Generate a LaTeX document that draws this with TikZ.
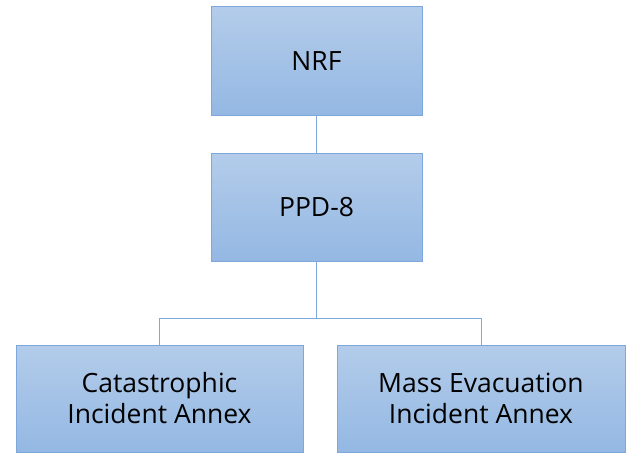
\documentclass[tikz,border=0pt]{standalone}
\usepackage{fontspec}
\setmainfont{Open Sans}
\usetikzlibrary{positioning}

\definecolor{boxtop}{HTML}{B3CCEA}
\definecolor{boxbot}{HTML}{94B8E3}
\definecolor{boxline}{HTML}{7EA7DC}

\begin{document}
\begin{tikzpicture}[x=1pt,y=-1pt,
        unit/.style={draw=boxline, line width=1pt, top color=boxtop, bottom color=boxbot,
          minimum height=108pt, align=center, font=\fontsize{26.5}{31}\selectfont, inner sep=0pt},
        link/.style={draw=boxline, line width=1pt}]
        \useasboundingbox (0,0) rectangle (628,452);
        \node[unit, minimum width=211pt] at (316.5,61) (nrf){NRF};
        \node[unit, minimum width=211pt] at (316.5,207.5) (ppd){PPD-8};
        \node[unit, minimum width=287pt, minimum height=107pt] at (159.5,398.5) (cat){Catastrophic\\Incident Annex};
        \node[unit, minimum width=288pt, minimum height=107pt] at (481,398.5) (mass){Mass Evacuation\\Incident Annex};
        \coordinate (split) at (316.5,318);

        \draw[link] (nrf) -- (ppd);
        \draw[link] (ppd) -- (split);
        \draw[link] (split) -| (cat.north);
        \draw[link] (split) -| (mass.north);
    \end{tikzpicture}
\end{document}
